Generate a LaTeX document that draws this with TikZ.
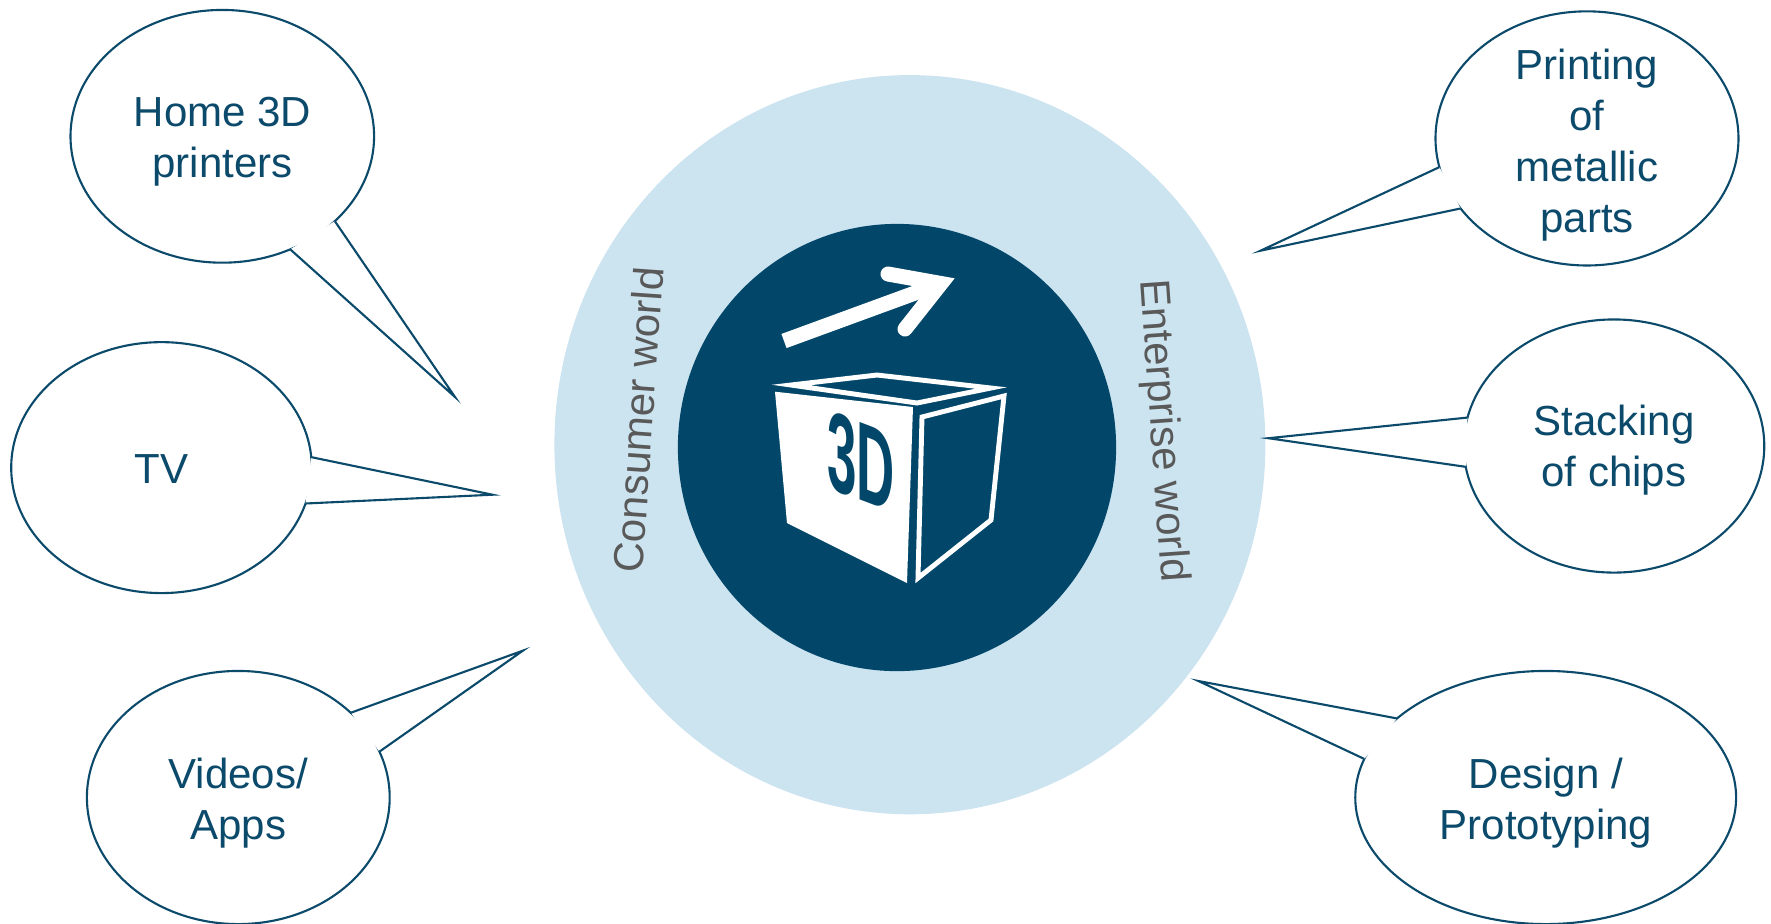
\documentclass[tikz,border=0pt]{standalone}
\usepackage{fontspec}
\setmainfont{Liberation Sans}
\usetikzlibrary{shapes.geometric}
\definecolor{lightcirc}{HTML}{CCE3F0}
\definecolor{darkcirc}{HTML}{02476A}
\definecolor{bubblecol}{HTML}{0B4A6B}
\definecolor{worldgray}{HTML}{595959}
\begin{document}
\begin{tikzpicture}[x=0.01cm,y=-0.01cm,
  bubble/.style={ellipse, draw=bubblecol, fill=white, line width=0.6pt, inner sep=0pt, outer sep=0pt},
  bubbletext/.style={text=bubblecol, align=center, inner sep=0pt, font=\fontsize{11.95}{14.5}\selectfont},
  tail/.style={draw=bubblecol, line width=0.6pt, line join=miter},
  tailfill/.style={fill=white},
  worldtext/.style={text=worldgray, inner sep=0pt, font=\fontsize{11.95}{14.5}\selectfont},
  cubeline/.style={draw=white, line width=1.4pt, line join=miter},
  arrowline/.style={draw=white, line width=0.15cm},
]
\useasboundingbox (0,0) rectangle (1771,923);

% central circles
\node[ellipse, fill=lightcirc, minimum width=7.106cm, minimum height=7.388cm, inner sep=0pt] (outer) at (909.9,444.7) {};
\node[ellipse, fill=darkcirc, minimum width=4.38cm, minimum height=4.47cm, inner sep=0pt] (core) at (897,447.5) {};

% arrow
\coordinate (arrStart) at (784,341);
\coordinate (arrTip) at (941,283.5);
\coordinate (barbA) at (888,274);
\coordinate (barbB) at (905,329);
\draw[arrowline, line cap=butt] (arrStart) -- (arrTip);
\draw[arrowline, line cap=round, line join=miter] (barbA) -- (arrTip) -- (barbB);

% cube
\fill[white] (775,391.7) -- (913,407) -- (907,583) -- (787,523) -- cycle;
\draw[cubeline] (791,385) -- (877,375) -- (991,388) -- (917,403) -- cycle;
\draw[cubeline] (922,417) -- (1004,396) -- (991,520) -- (918,578) -- cycle;
\node[text=darkcirc, inner sep=0pt, font=\bfseries\fontsize{32}{32}\selectfont, yslant=-0.38, xscale=0.47] (logo) at (861,462) {3D};

% world labels
\node[worldtext, rotate=86] (consumer) at (638,420) {Consumer world};
\node[worldtext, rotate=-86] (enterprise) at (1162,431) {Enterprise world};

% bubbles
\node[bubble, minimum width=3.034cm, minimum height=2.526cm] (home) at (222.3,136.3) {};
\node[bubble, minimum width=3.004cm, minimum height=2.508cm] (tv) at (161.5,467.6) {};
\node[bubble, minimum width=3.026cm, minimum height=2.53cm] (video) at (238.3,797.5) {};
\node[bubble, minimum width=3.028cm, minimum height=2.54cm] (print) at (1587,138.4) {};
\node[bubble, minimum width=3.004cm, minimum height=2.53cm] (stack) at (1614,446) {};
\node[bubble, minimum width=3.806cm, minimum height=2.53cm] (design) at (1545.7,797.5) {};

% tail tips
\coordinate (homeTip) at (455,397);
\coordinate (tvTip) at (492.5,494.7);
\coordinate (videoTip) at (523,650.6);
\coordinate (printTip) at (1260.5,250.7);
\coordinate (stackTip) at (1268.4,438.2);
\coordinate (designTip) at (1198.4,681);

\fill[tailfill] (home.-37) -- (homeTip) -- (home.-59.9) -- cycle;
\draw[tail] (home.-37) -- (homeTip) -- (home.-59.9);
\fill[tailfill] (tv.4.3) -- (tvTip) -- (tv.-14.1) -- cycle;
\draw[tail] (tv.4.3) -- (tvTip) -- (tv.-14.1);
\fill[tailfill] (video.37.9) -- (videoTip) -- (video.18.5) -- cycle;
\draw[tail] (video.37.9) -- (videoTip) -- (video.18.5);
\fill[tailfill] (print.-169.4) -- (printTip) -- (print.-151.3) -- cycle;
\draw[tail] (print.-169.4) -- (printTip) -- (print.-151.3);
\fill[tailfill] (stack.169.7) -- (stackTip) -- (stack.-172.6) -- cycle;
\draw[tail] (stack.169.7) -- (stackTip) -- (stack.-172.6);
\fill[tailfill] (design.152) -- (designTip) -- (design.168.4) -- cycle;
\draw[tail] (design.152) -- (designTip) -- (design.168.4);

% bubble texts
\node[bubbletext] (homeText) at (222.5,142) {Home 3D\\printers};
\node[bubbletext] (tvText) at (161.5,469) {TV};
\node[bubbletext] (videoText) at (238.3,803) {Videos/\\Apps};
\node[bubbletext] (printText) at (1587,145) {Printing\\of\\metallic\\parts};
\node[bubbletext] (stackText) at (1614,450) {Stacking\\of chips};
\node[bubbletext] (designText) at (1546,803) {Design /\\Prototyping};
\end{tikzpicture}
\end{document}
